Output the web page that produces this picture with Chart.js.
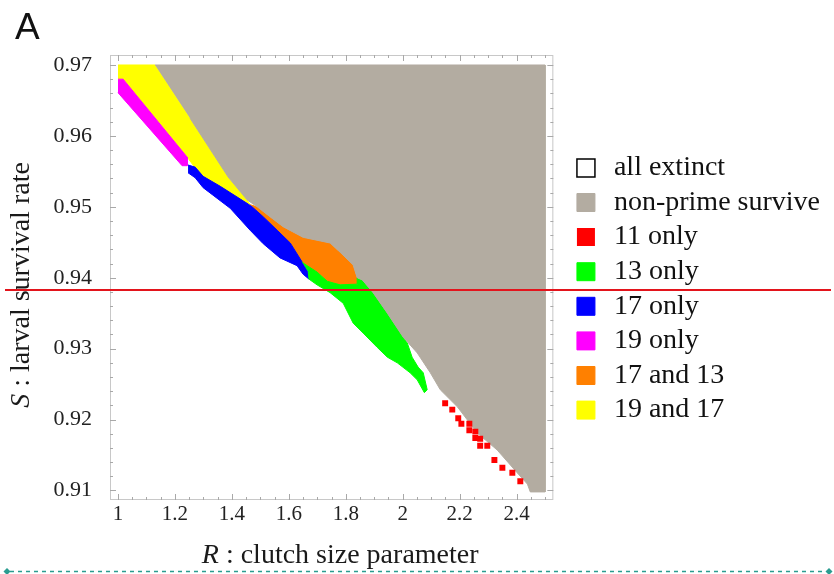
<!DOCTYPE html>
<html>
<head>
<meta charset="utf-8">
<script src="https://cdn.jsdelivr.net/npm/chart.js@4.4.0/dist/chart.umd.min.js"></script>
<style>
  html, body { margin: 0; padding: 0; background: #fff; }
  #wrap { position: relative; width: 834px; height: 574px; }
</style>
</head>
<body>
<div id="wrap"><canvas id="chart" width="834" height="574"></canvas></div>
<script>
// axis ticks
const rTicks = [1, 1.2, 1.4, 1.6, 1.8, 2, 2.2, 2.4];
const sTicks = [0.91, 0.92, 0.93, 0.94, 0.95, 0.96, 0.97];

// outcome regions as [R, S] outlines
const nonPrime = [
  [1.130, 0.9700], [2.500, 0.9700], [2.500, 0.9098], [2.448, 0.9098], [2.438, 0.9109],
  [2.402, 0.9125], [2.332, 0.9157], [2.262, 0.9181], [2.192, 0.9218], [2.132, 0.9242],
  [2.097, 0.9266], [2.051, 0.9294], [2.002, 0.9316], [1.946, 0.9350], [1.896, 0.9379],
  [1.858, 0.9397], [1.840, 0.9400], [1.826, 0.9418], [1.780, 0.9436], [1.745, 0.9449],
  [1.650, 0.9457], [1.580, 0.9472], [1.534, 0.9486], [1.489, 0.9500], [1.453, 0.9510],
  [1.387, 0.9542], [1.253, 0.9625]
];
const only11 = [
  [2.149, 0.9223], [2.174, 0.9214], [2.195, 0.9202], [2.206, 0.9194], [2.234, 0.9194],
  [2.234, 0.9185], [2.255, 0.9183], [2.255, 0.9174], [2.272, 0.9173], [2.272, 0.9163],
  [2.297, 0.9163], [2.322, 0.9143], [2.350, 0.9132], [2.385, 0.9125], [2.413, 0.9113]
];
const only13 = [
  [1.647, 0.9422], [1.657, 0.9419], [1.699, 0.9408], [1.735, 0.9395], [1.780, 0.9390],
  [1.840, 0.9391], [1.840, 0.9400], [1.858, 0.9397], [1.896, 0.9379], [1.946, 0.9350],
  [2.002, 0.9316], [2.016, 0.9308], [2.033, 0.9288], [2.054, 0.9274], [2.072, 0.9266],
  [2.086, 0.9242], [2.076, 0.9238], [2.051, 0.9256], [2.026, 0.9266], [1.981, 0.9280],
  [1.946, 0.9288], [1.910, 0.9302], [1.861, 0.9322], [1.826, 0.9336], [1.791, 0.9364],
  [1.745, 0.9379], [1.699, 0.9390], [1.671, 0.9398], [1.668, 0.9408]
];
const only17 = [
  [1.246, 0.9559], [1.271, 0.9556], [1.299, 0.9543], [1.359, 0.9529], [1.453, 0.9505],
  [1.471, 0.9500], [1.510, 0.9486], [1.559, 0.9467], [1.605, 0.9449], [1.647, 0.9422],
  [1.668, 0.9408], [1.671, 0.9398], [1.650, 0.9405], [1.629, 0.9417], [1.569, 0.9428],
  [1.510, 0.9448], [1.464, 0.9467], [1.394, 0.9498], [1.299, 0.9527], [1.271, 0.9541],
  [1.246, 0.9548]
];
const only19 = [
  [1.000, 0.9680], [1.018, 0.9680], [1.243, 0.9570], [1.243, 0.9558], [1.225, 0.9558],
  [1.000, 0.9661]
];
const both17and13 = [
  [1.464, 0.9503], [1.489, 0.9500], [1.534, 0.9486], [1.580, 0.9472], [1.650, 0.9457],
  [1.745, 0.9449], [1.780, 0.9436], [1.826, 0.9418], [1.840, 0.9400], [1.840, 0.9391],
  [1.780, 0.9390], [1.735, 0.9395], [1.699, 0.9408], [1.657, 0.9419], [1.647, 0.9422],
  [1.605, 0.9449], [1.559, 0.9467], [1.510, 0.9486], [1.471, 0.9500]
];
const both19and17 = [
  [1.000, 0.9700], [1.130, 0.9700], [1.253, 0.9625], [1.387, 0.9542], [1.453, 0.9510],
  [1.464, 0.9503], [1.359, 0.9528], [1.299, 0.9542], [1.271, 0.9555], [1.243, 0.9570],
  [1.018, 0.9680], [1.000, 0.9680]
];

// horizontal guide across the figure
const markS = 0.9383;

const serif = 'Liberation Serif';

const area = (label, color, pts) => ({
  label: label,
  data: pts,
  backgroundColor: color,
  borderColor: color,
  borderWidth: 1,
  fill: 'shape',
  tension: 0,
  pointRadius: 0,
  pointHoverRadius: 0,
  pointStyle: 'rect'
});

// light frame with inward ticks on all four sides
const framePlugin = {
  id: 'frame',
  afterDatasetsDraw(chart) {
    const { ctx, chartArea: a, scales: { x, y } } = chart;
    ctx.save();
    ctx.strokeStyle = '#c8c8c8';
    ctx.lineWidth = 1;
    ctx.strokeRect(a.left + 0.5, a.top + 0.5, a.width - 1, a.height - 1);
    ctx.strokeStyle = '#a8a8a8';
    ctx.beginPath();
    for (let i = 0; i <= 30; i++) {
      const px = Math.round(x.getPixelForValue(1 + i * 0.05)) + 0.5;
      const len = i % 4 === 0 ? 6 : 3;
      ctx.moveTo(px, a.bottom); ctx.lineTo(px, a.bottom - len);
      ctx.moveTo(px, a.top); ctx.lineTo(px, a.top + len);
    }
    for (let i = 0; i <= 30; i++) {
      const py = Math.round(y.getPixelForValue(0.91 + i * 0.002)) + 0.5;
      const len = i % 5 === 0 ? 6 : 3;
      ctx.moveTo(a.left, py); ctx.lineTo(a.left + len, py);
      ctx.moveTo(a.right, py); ctx.lineTo(a.right - len, py);
    }
    ctx.stroke();
    ctx.restore();
  }
};

// axis titles with italic symbol, guide line and bottom rule
const decorPlugin = {
  id: 'decor',
  afterDraw(chart) {
    const { ctx, chartArea: a, scales: { y } } = chart;
    const italic = 'italic 28px "' + serif + '"';
    const plain = '28px "' + serif + '"';
    const titled = (sym, rest) => {
      ctx.font = italic;
      const w1 = ctx.measureText(sym).width;
      ctx.font = plain;
      const w2 = ctx.measureText(rest).width;
      const x0 = -(w1 + w2) / 2;
      ctx.font = italic;
      ctx.fillText(sym, x0, 0);
      ctx.font = plain;
      ctx.fillText(rest, x0 + w1, 0);
    };
    ctx.save();
    ctx.fillStyle = '#1a1a1a';
    ctx.textBaseline = 'alphabetic';
    ctx.textAlign = 'left';

    ctx.save();
    ctx.translate((a.left + a.right) / 2 + 8.5, a.bottom + 63);
    titled('R', ' : clutch size parameter');
    ctx.restore();

    ctx.save();
    ctx.translate(a.left - 81, (a.top + a.bottom) / 2 + 7.5);
    ctx.rotate(-Math.PI / 2);
    titled('S', ' : larval survival rate');
    ctx.restore();

    const gy = Math.round(y.getPixelForValue(markS));
    ctx.strokeStyle = '#e3141c';
    ctx.lineWidth = 2;
    ctx.beginPath();
    ctx.moveTo(5, gy);
    ctx.lineTo(831, gy);
    ctx.stroke();

    const by = 571.5;
    ctx.strokeStyle = '#2b9c90';
    ctx.fillStyle = '#2b9c90';
    ctx.lineWidth = 1.5;
    ctx.setLineDash([4, 4]);
    ctx.beginPath();
    ctx.moveTo(10, by);
    ctx.lineTo(826, by);
    ctx.stroke();
    ctx.setLineDash([]);
    [7, 829].forEach(cx => {
      ctx.beginPath();
      ctx.moveTo(cx, by - 3.5);
      ctx.lineTo(cx + 3.5, by);
      ctx.lineTo(cx, by + 3.5);
      ctx.lineTo(cx - 3.5, by);
      ctx.closePath();
      ctx.fill();
    });
    ctx.restore();
  }
};

const tickFont = { family: serif, size: 21 };

new Chart(document.getElementById('chart'), {
  type: 'line',
  data: {
    datasets: [
      {
        label: 'all extinct', data: [], fill: false, showLine: false,
        backgroundColor: '#ffffff', borderColor: '#000000', borderWidth: 1.5, pointStyle: 'rect'
      },
      area('non-prime survive', '#b3aca1', nonPrime),
      {
        label: '11 only', data: only11, showLine: false, order: -1,
        pointStyle: 'rect', pointRadius: 4.2, pointHoverRadius: 4.2,
        backgroundColor: '#ff0000', borderColor: '#ff0000', borderWidth: 0
      },
      area('13 only', '#00ff00', only13),
      area('17 only', '#0000ff', only17),
      area('19 only', '#ff00ff', only19),
      area('17 and 13', '#ff8000', both17and13),
      area('19 and 17', '#ffff00', both19and17)
    ]
  },
  options: {
    responsive: false,
    animation: false,
    devicePixelRatio: 1,
    layout: { padding: { left: 15, right: 4, top: 0, bottom: -4 } },
    scales: {
      x: {
        type: 'linear',
        min: 0.9719,
        max: 2.529,
        afterBuildTicks: s => { s.ticks = rTicks.map(v => ({ value: v })); },
        afterFit: s => { s.height = 78; },
        grid: { display: false, drawTicks: false },
        border: { display: false },
        ticks: { padding: 2, color: '#222', font: tickFont, maxRotation: 0, autoSkip: false, callback: v => String(v) }
      },
      y: {
        type: 'linear',
        min: 0.90866,
        max: 0.97141,
        afterBuildTicks: s => { s.ticks = sTicks.map(v => ({ value: v })); },
        afterFit: s => { s.width = 95; },
        grid: { display: false, drawTicks: false },
        border: { display: false },
        ticks: { padding: 18, color: '#222', font: { family: serif, size: 22 }, autoSkip: false, callback: v => String(v) }
      },
      yR: {
        type: 'linear',
        position: 'right',
        min: 0,
        max: 1,
        afterFit: s => { s.width = 12; },
        grid: { display: false, drawTicks: false },
        border: { display: false },
        ticks: { display: false }
      }
    },
    plugins: {
      title: {
        display: true,
        text: 'A',
        align: 'start',
        color: '#111',
        font: { family: 'Liberation Sans', size: 37, weight: 'normal' },
        padding: { top: 7, bottom: 3.6 }
      },
      legend: {
        position: 'right',
        align: 'center',
        maxWidth: 320,
        labels: {
          usePointStyle: true,
          boxWidth: 28,
          boxHeight: 18,
          padding: 6.6,
          color: '#111',
          font: { family: serif, size: 28 },
          sort: (a, b) => a.datasetIndex - b.datasetIndex
        }
      },
      tooltip: { enabled: false }
    }
  },
  plugins: [framePlugin, decorPlugin]
});
</script>
</body>
</html>
